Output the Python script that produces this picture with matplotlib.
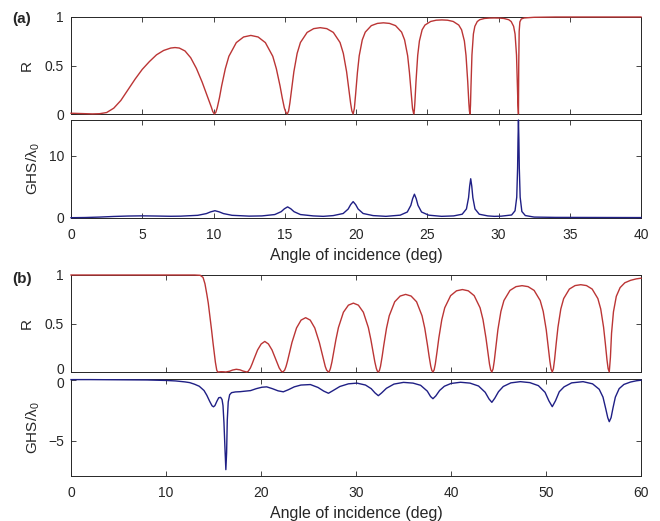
import matplotlib
matplotlib.use("Agg")
import matplotlib.pyplot as plt
import matplotlib.transforms as mtransforms

plt.rcParams['font.family'] = ['Liberation Sans', 'DejaVu Sans']
plt.rcParams['mathtext.fontset'] = 'custom'
plt.rcParams['mathtext.rm'] = 'Liberation Sans'
plt.rcParams['mathtext.it'] = 'Liberation Sans:italic'

# ---------------- data: panel (a) ----------------
angle_a_R = [0, 0.5, 1.0, 1.5, 2.0, 2.5, 3.0, 3.5, 4.0, 4.5, 5.0, 5.5, 6.0, 6.5, 7.0, 7.3, 7.6, 8.0, 8.4, 8.8,
             9.2, 9.5, 9.7, 9.85, 9.95,
             10.06, 10.16, 10.26, 10.42, 10.57, 10.83, 11.08, 11.60, 12.11, 12.62, 13.13, 13.64, 14.16, 14.41,
             14.67, 14.82, 14.97, 15.08,
             15.18, 15.27, 15.36, 15.50, 15.64, 15.87, 16.10, 16.57, 17.03, 17.49, 17.95, 18.41, 18.88, 19.11,
             19.34, 19.48, 19.62, 19.71,
             19.8, 19.885, 19.97, 20.10, 20.225, 20.44, 20.65, 21.075, 21.5, 21.925, 22.35, 22.775, 23.2, 23.41,
             23.625, 23.75, 23.88, 23.965,
             24.05, 24.09, 24.13, 24.21, 24.33, 24.45, 24.64, 24.84, 25.24, 25.63, 26.03, 26.42, 26.82, 27.21,
             27.41, 27.605, 27.72, 27.84, 27.92, 27.96,
             28.0, 28.034, 28.068, 28.136, 28.238, 28.34, 28.51, 28.68, 29.02, 29.36, 29.70, 30.04, 30.38, 30.72,
             30.89, 31.06, 31.162, 31.264, 31.332, 31.366,
             31.4, 31.42, 31.45, 31.5, 31.6, 31.8, 32.5, 34.0, 40.0]
R_a = [0.008, 0.006, 0.003, 0.001, 0.003, 0.015, 0.06, 0.14, 0.25, 0.36, 0.46, 0.54, 0.61, 0.655, 0.68, 0.685,
       0.68, 0.65, 0.58, 0.47, 0.33, 0.21, 0.13, 0.07, 0.025,
       0, .0165, .063, .169, .289, .467, .595, .736, .794, .810, .794, .736, .595, .467, .289, .169, .063, .0165,
       0, .031, .113, .278, .436, .625, .737, .841, .880, .890, .880, .841, .737, .625, .436, .278, .113, .031,
       0, .058, .198, .428, .600, .764, .844, .911, .934, .940, .934, .911, .844, .764, .600, .428, .198, .058,
       0, .031, .112, .334, .604, .753, .868, .917, .954, .967, .970, .967, .954, .917, .868, .753, .604, .334,
       .112, .031,
       0, .089, .281, .608, .825, .904, .953, .972, .985, .989, .990, .989, .985, .972, .953, .904, .825, .608,
       .281, .089,
       0, 0.5, 0.85, 0.95, 0.98, 0.99, 0.997, 1.0, 1.0]

angle_a_G = [0, 1, 2, 3, 4, 5, 6, 7, 7.7, 8.9, 9.5, 9.8, 10.1, 10.4, 10.7, 11.3, 12.5,
             13.4, 14.3, 14.75, 14.975, 15.2, 15.425, 15.65, 16.1, 17.0, 17.7,
             18.4, 19.1, 19.45, 19.625, 19.8, 19.975, 20.15, 20.5, 21.2, 22.1,
             23.1, 23.6, 23.85, 23.975, 24.1, 24.225, 24.35, 24.6, 25.1, 26.0,
             26.85, 27.45, 27.75, 27.9, 27.975, 28.05, 28.125, 28.2, 28.35, 28.65, 29.25, 29.7,
             30.2, 30.92, 31.16, 31.28, 31.34, 31.37, 31.4, 31.43, 31.46, 31.52, 31.64, 31.88, 32.5, 34, 40]
G_a = [0, 0.03, 0.1, 0.2, 0.27, 0.3, 0.27, 0.23, 0.25, 0.386, 0.665, 0.944, 1.13, 0.944, 0.665, 0.386, 0.255,
       0.29, 0.51, 0.975, 1.44, 1.75, 1.44, 0.975, 0.51, 0.29, 0.22,
       0.34, 0.68, 1.4, 2.12, 2.6, 2.12, 1.4, 0.68, 0.34, 0.22,
       0.41, 0.92, 2.0, 3.08, 3.8, 3.08, 2.0, 0.92, 0.41, 0.22,
       0.29, 0.56, 1.42, 3.25, 5.08, 6.3, 5.08, 3.25, 1.42, 0.56, 0.29, 0.22,
       0.25, 0.44, 1.12, 3.32, 8.0, 12.68, 15.8, 12.68, 8.0, 3.32, 1.0, 0.35, 0.1, 0.05, 0.02]

# ---------------- data: panel (b) ----------------
angle_b_R = [0, 13.0, 13.6, 13.9, 14.1, 14.3, 14.45, 14.6, 14.8, 14.95, 15.09, 15.2, 15.34, 15.44, 15.8, 16.1,
             16.3, 16.7, 17.0, 17.4, 17.8, 18.1,
             18.5, 18.65, 18.88, 19.07, 19.26, 19.64, 20.02, 20.4, 20.78, 21.16, 21.54, 21.73, 21.92, 22.15,
             22.3, 22.492, 22.636, 22.78, 23.02, 23.26, 23.74, 24.22, 24.7, 25.18, 25.66, 26.14, 26.38, 26.62,
             26.764, 26.908,
             27.1, 27.205, 27.31, 27.4675, 27.625, 27.8875, 28.15, 28.675, 29.2, 29.725, 30.25, 30.775, 31.3,
             31.5625, 31.825, 31.9825, 32.14, 32.245,
             32.35, 32.465, 32.58, 32.7525, 32.925, 33.2125, 33.5, 34.075, 34.65, 35.225, 35.8, 36.375, 36.95,
             37.2375, 37.525, 37.6975, 37.87, 37.985,
             38.1, 38.224, 38.348, 38.534, 38.72, 39.03, 39.34, 39.96, 40.58, 41.2, 41.82, 42.44, 43.06, 43.37,
             43.68, 43.866, 44.052, 44.176,
             44.3, 44.427, 44.554, 44.745, 44.936, 45.254, 45.572, 46.208, 46.844, 47.48, 48.116, 48.752, 49.388,
             49.706, 50.024, 50.215, 50.406, 50.533,
             50.66, 50.78, 50.9, 51.08, 51.26, 51.56, 51.86, 52.46, 53.06, 53.66, 54.26, 54.86, 55.46, 55.76,
             56.06, 56.24, 56.42, 56.54,
             56.66, 56.78, 56.9, 57.1, 57.4, 57.8, 58.3, 58.9, 59.5, 60]
R_b = [1.0, 1.0, 0.997, 0.975, 0.91, 0.8, 0.71, 0.59, 0.43, 0.3, 0.19, 0.1, 0.02, 0, 0.003, 0.002,
       0, 0.008, 0.02, 0.028, 0.022, 0.01,
       0, .007, .041, .085, .134, .227, .289, .315, .289, .227, .134, .085, .041, .007,
       0, .0196, .057, .108, .208, .305, .454, .535, .560, .535, .454, .305, .208, .108, .057, .0196,
       0, .0096, .037, .104, .190, .335, .458, .616, .689, .710, .689, .616, .458, .335, .190, .104, .037, .0096,
       0, .0155, .059, .160, .276, .452, .580, .724, .783, .800, .783, .724, .580, .452, .276, .160, .059, .0155,
       0, .0218, .0817, .212, .351, .539, .662, .787, .837, .850, .837, .787, .662, .539, .351, .212, .0817, .0218,
       0, .031, .113, .278, .436, .625, .737, .841, .880, .890, .880, .841, .737, .625, .436, .278, .113, .031,
       0, .034, .124, .300, .462, .650, .757, .855, .891, .900, .891, .855, .757, .650, .462, .300, .124, .034,
       0, .15, .4, .62, .78, .87, .92, .945, .96, .967]

angle_b_G = [0, 2, 4, 6, 8, 10, 11, 12, 12.5, 13, 13.5, 14, 14.3, 14.6, 14.85, 15.0, 15.15, 15.35, 15.55, 15.75,
             15.9, 16.0, 16.1, 16.2, 16.3, 16.38, 16.45, 16.55, 16.7, 16.9, 17.3, 17.8, 18.4, 18.9, 19.5, 20.1,
             20.6, 21.2, 21.8, 22.35, 22.9, 23.5, 24.2, 25.2, 26.0, 26.6, 27.1, 27.6, 28.3, 29.2, 30.1, 31.0,
             31.6, 32.0, 32.35, 32.7, 33.2, 34.0, 35.0, 36.0, 36.8, 37.5, 37.85, 38.1, 38.4, 38.8, 39.3, 40.0,
             41.0, 42.0, 42.9, 43.6, 44.0, 44.3, 44.6, 45.0, 45.5, 46.3, 47.3, 48.3, 49.2, 49.9, 50.3, 50.66,
             51.0, 51.4, 51.9, 52.7, 53.9, 54.9, 55.6, 56.0, 56.3, 56.5, 56.66, 56.85, 57.05, 57.3, 57.7, 58.2,
             58.9, 59.5, 60]
G_b = [0.05, 0.05, 0.04, 0.03, 0.02, -0.02, -0.06, -0.14, -0.2, -0.33, -0.5, -0.85, -1.25, -1.75, -2.12, -2.2,
       -2.1, -1.75, -1.45, -1.42, -1.6, -2.1, -3.5, -5.5, -7.4, -6.0, -3.3, -1.8, -1.2, -1.03, -0.97, -0.95,
       -0.9, -0.86, -0.7, -0.58, -0.55, -0.7, -0.88, -0.96, -0.78, -0.55, -0.4, -0.36, -0.6, -0.9, -1.08,
       -0.85, -0.52, -0.3, -0.24, -0.4, -0.7, -1.05, -1.28, -1.05, -0.67, -0.32, -0.18, -0.24, -0.42, -0.9,
       -1.35, -1.53, -1.3, -0.85, -0.5, -0.27, -0.17, -0.24, -0.48, -1.0, -1.55, -1.83, -1.5, -0.95, -0.52,
       -0.22, -0.12, -0.2, -0.45, -1.0, -1.7, -2.19, -1.7, -0.95, -0.55, -0.22, -0.12, -0.3, -0.75, -1.4,
       -2.4, -3.1, -3.43, -3.1, -2.3, -1.4, -0.7, -0.35, -0.15, -0.05, 0.0]

xticks_a = [0, 5, 10, 15, 20, 25, 30, 35, 40]
xticks_b = [0, 10, 20, 30, 40, 50, 60]

RED = '#bb3535'
BLUE = '#1f1f85'
AX = '#262626'

W, H = 660, 521
fig = plt.figure(figsize=(W / 100, H / 100), dpi=100)


def add_ax(top, bottom):
    return fig.add_axes([71 / W, (H - bottom) / H, 570 / W, (bottom - top) / H])


def style(ax, xticks, xlim, show_xlabels):
    ax.set_xlim(*xlim)
    ax.set_xticks(xticks)
    ax.tick_params(direction='in', top=True, right=True, length=3.5, width=0.6,
                   colors=AX, labelsize=10, pad=5)
    ax.tick_params(axis='x', pad=7.5)
    if not show_xlabels:
        ax.tick_params(labelbottom=False)
    for s in ax.spines.values():
        s.set_color(AX)
        s.set_linewidth(0.7)


def shift_label(ax, index, dy_px):
    lab = ax.yaxis.get_major_ticks()[index].label1
    lab.set_transform(lab.get_transform() +
                      mtransforms.ScaledTranslation(0, dy_px / 100, fig.dpi_scale_trans))


# (a) R
ax1 = add_ax(17, 114)
ax1.plot(angle_a_R, R_a, color=RED, lw=1.0, clip_on=False, zorder=5)
style(ax1, xticks_a, (0, 40), False)
ax1.set_ylim(0, 1)
ax1.set_yticks([0, 0.5, 1])
ax1.set_yticklabels(['0', '0.5', '1'])
ax1.set_ylabel('R', fontsize=11, color=AX)
ax1.yaxis.set_label_coords(-0.066, 0.5)

# (a) GHS
ax2 = add_ax(120, 217.7)
ax2.plot(angle_a_G, G_a, color=BLUE, lw=1.0, clip_on=False, zorder=5)
style(ax2, xticks_a, (0, 40), True)
ax2.set_ylim(0, 15.8)
ax2.set_yticks([0, 10])
ax2.set_ylabel('GHS/$\\mathregular{\\lambda_0}$', fontsize=11, color=AX)
ax2.yaxis.set_label_coords(-0.05, 0.5)
ax2.set_xlabel('Angle of incidence (deg)', fontsize=11.5, color=AX, labelpad=4)

# (b) R
ax3 = add_ax(275, 372)
ax3.plot(angle_b_R, R_b, color=RED, lw=1.0, clip_on=False, zorder=5)
style(ax3, xticks_b, (0, 60), False)
ax3.set_ylim(0, 1)
ax3.set_yticks([0, 0.5, 1])
ax3.set_yticklabels(['0', '0.5', '1'])
ax3.set_ylabel('R', fontsize=11, color=AX)
ax3.yaxis.set_label_coords(-0.066, 0.5)
shift_label(ax3, 0, 3)

# (b) GHS
ax4 = add_ax(379, 475.7)
ax4.plot(angle_b_G, G_b, color=BLUE, lw=1.0, clip_on=False, zorder=5)
style(ax4, xticks_b, (0, 60), True)
ax4.set_ylim(-7.9, 0.1)
ax4.set_yticks([-5, 0])
ax4.set_ylabel('GHS/$\\mathregular{\\lambda_0}$', fontsize=11, color=AX)
ax4.yaxis.set_label_coords(-0.05, 0.5)
ax4.set_xlabel('Angle of incidence (deg)', fontsize=11.5, color=AX, labelpad=4)
shift_label(ax4, 1, -2)

fig.text(12 / W, 1 - 19 / H, '(a)', fontsize=11, fontweight='bold', color=AX, va='center', ha='left')
fig.text(12 / W, 1 - 279 / H, '(b)', fontsize=11, fontweight='bold', color=AX, va='center', ha='left')

fig.savefig('out.png', dpi=100)
